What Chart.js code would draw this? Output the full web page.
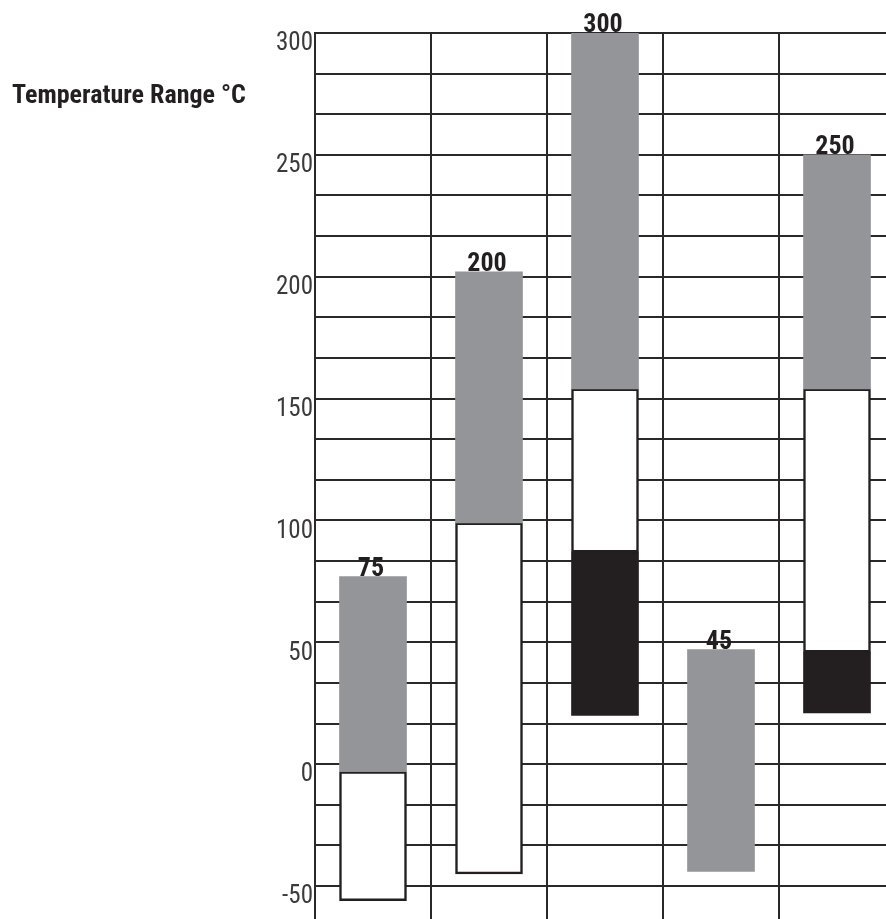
<!DOCTYPE html>
<html>
<head>
<meta charset="utf-8">
<script src="https://cdn.jsdelivr.net/npm/chart.js@4/dist/chart.umd.min.js"></script>
<style>
  html, body { margin: 0; padding: 0; background: #ffffff; overflow: hidden; }
  #wrap { position: absolute; left: 0; top: 0; width: 900px; height: 919px; }
</style>
</head>
<body>
<div id="wrap"><canvas id="c" width="900" height="919"></canvas></div>
<script>
// ---- data ----
const categories = ['1', '2', '3', '4', '5'];
const grayRange  = [[-3, 77], [99, 202], [154, 300], [-44, 47], [154, 250]];
const whiteRange = [[-56, -3], [-45, 99], [87, 154], null, [46, 154]];
const blackRange = [null, null, [20, 87], null, [21, 46]];
const topLabels  = ['75', '200', '300', '45', '250'];
const yTickLabels = ['-50', '0', '50', '100', '150', '200', '250', '300'];
const yMin = -63.5, yMax = 300, yGridStep = 50 / 3;
const titleText = 'Temperature Range °C';

const FONT = '"Liberation Sans Narrow", "Roboto Condensed", "DejaVu Sans Condensed", "Liberation Sans", sans-serif';
const LINE = '#2b2829';

const gridValues = [];
for (let k = Math.ceil(yMin / yGridStep); k * yGridStep <= yMax + 0.001; k++) gridValues.push(k * yGridStep);

const labelPlugin = {
  id: 'labels',
  afterDatasetsDraw(chart) {
    const ctx = chart.ctx;
    ctx.save();
    ctx.fillStyle = '#231f20';
    ctx.font = 'bold 26px ' + FONT;
    ctx.textAlign = 'center';
    ctx.textBaseline = 'alphabetic';
    chart.getDatasetMeta(0).data.forEach((el, i) => {
      ctx.fillText(topLabels[i], el.x - 2, el.y - 1);
    });
    ctx.font = 'bold 26px ' + FONT;
    ctx.textAlign = 'left';
    ctx.fillText(titleText, 12, 103);
    ctx.restore();
  }
};

new Chart(document.getElementById('c'), {
  type: 'bar',
  data: {
    labels: categories,
    datasets: [
      { data: grayRange, backgroundColor: '#939598', borderWidth: 0 },
      { data: whiteRange, backgroundColor: '#ffffff', borderColor: '#231f20', borderWidth: 2.5, borderSkipped: false },
      { data: blackRange, backgroundColor: '#231f20', borderWidth: 0 }
    ]
  },
  options: {
    responsive: false,
    animation: false,
    events: [],
    layout: { padding: { top: 33, right: 5, bottom: 0, left: 0 } },
    datasets: { bar: { grouped: false, barThickness: 67 } },
    plugins: { legend: { display: false }, tooltip: { enabled: false }, title: { display: false } },
    scales: {
      x: {
        type: 'category',
        offset: true,
        grid: { display: true, offset: true, color: LINE, lineWidth: 2, drawTicks: false },
        border: { display: false },
        ticks: { display: false, padding: 0 },
        afterFit(s) { s.height = 0; s.paddingLeft = 0; s.paddingRight = 0; }
      },
      y: {
        min: yMin,
        max: yMax,
        grid: { color: LINE, lineWidth: 2, drawTicks: false },
        border: { display: true, color: LINE, width: 2 },
        afterBuildTicks(s) { s.ticks = gridValues.map(v => ({ value: v })); },
        afterFit(s) { s.width = 315; s.paddingTop = 0; s.paddingBottom = 0; },
        ticks: {
          autoSkip: false,
          padding: 2,
          labelOffset: 11,
          color: '#3a3a3a',
          font: { family: FONT, size: 25 },
          callback(value) {
            const r = Math.round(value);
            return (Math.abs(value - r) < 0.01 && yTickLabels.includes(String(r))) ? String(r) : '';
          }
        }
      }
    }
  },
  plugins: [labelPlugin]
});
</script>
</body>
</html>
